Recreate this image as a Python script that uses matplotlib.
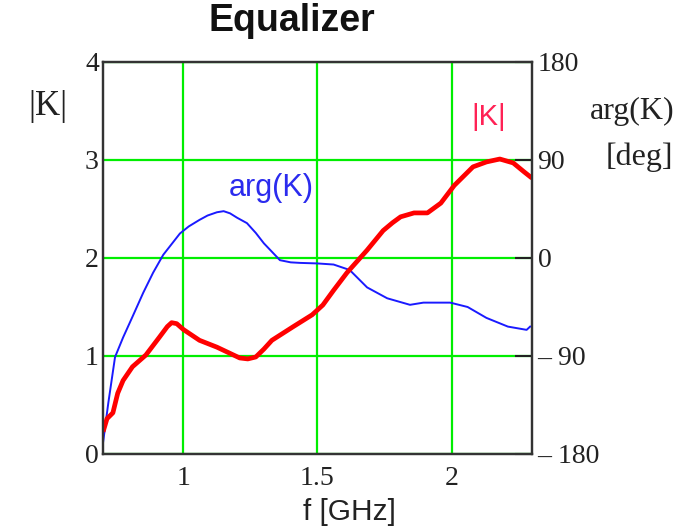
"""Equalizer magnitude / phase response."""

import matplotlib

matplotlib.use("Agg")
import matplotlib.pyplot as plt

# |K|
f_mag = [0.703, 0.715, 0.737, 0.755, 0.775, 0.81, 0.86, 0.91, 0.94, 0.956, 0.975,
         1.0, 1.06, 1.125, 1.21, 1.24, 1.27, 1.30, 1.33, 1.41, 1.48, 1.52,
         1.56, 1.61, 1.685, 1.745, 1.78, 1.81, 1.86, 1.91, 1.96, 2.01, 2.08,
         2.13, 2.18, 2.23, 2.27, 2.293]
mag = [0.25, 0.36, 0.42, 0.62, 0.75, 0.89, 1.01, 1.19, 1.30, 1.34, 1.33,
       1.27, 1.16, 1.09, 0.98, 0.97, 0.99, 1.07, 1.16, 1.30, 1.42, 1.52,
       1.67, 1.85, 2.08, 2.28, 2.36, 2.42, 2.46, 2.46, 2.56, 2.74, 2.93,
       2.98, 3.01, 2.97, 2.88, 2.83]

# arg(K) in degrees, right axis
f_arg = [0.70, 0.72, 0.745, 0.775, 0.81, 0.85, 0.887, 0.925, 0.96, 0.987, 1.02,
         1.06, 1.09, 1.125, 1.15, 1.174, 1.20, 1.237, 1.27, 1.30, 1.36, 1.40,
         1.435, 1.50, 1.56, 1.62, 1.685, 1.76, 1.845, 1.895, 1.995, 2.06, 2.13,
         2.21, 2.28, 2.293]
arg_deg = [-170, -133, -91, -73, -54, -32, -13.5, 3, 14, 22.5, 29,
           35, 39, 42, 43, 41, 37, 32, 23, 13.5, -2, -4,
           -4.5, -5, -6, -11, -27, -37, -43, -41, -41, -45, -55,
           -63, -66, -63]

x_ticks = [1, 1.5, 2]
left_ticks = [0, 1, 2, 3, 4]
right_ticks = [-180, -90, 0, 90, 180]
right_labels = ["\u2013 180", "\u2013 90", "0", "90", "180"]

serif = "Liberation Serif"
sans = "Liberation Sans"
ink = "#222222"
green = "#00ee00"

fig = plt.figure(figsize=(6.81, 5.29), dpi=100)
ax = fig.add_axes([0.1512, 0.1418, 0.6300, 0.7410])
ax2 = ax.twinx()

ax.set_xlim(0.7, 2.3)
ax.set_ylim(0, 4)
ax2.set_ylim(-180, 180)

ax.set_xticks(x_ticks)
ax.set_xticklabels([f"{v:g}" for v in x_ticks], family=serif, fontsize=20, color=ink)
ax.set_yticks(left_ticks)
ax.set_yticklabels([str(v) for v in left_ticks], family=serif, fontsize=20, color=ink)
ax2.set_yticks(right_ticks)
ax2.set_yticklabels(right_labels, family=serif, fontsize=20, color=ink)

ax.tick_params(axis="x", length=0, pad=9)
ax.tick_params(axis="y", length=0, pad=3)
ax2.tick_params(axis="y", direction="in", length=12, width=1.5, color=ink, pad=4)

ax.grid(True, color=green, linewidth=1.6)
ax.set_axisbelow(True)

# both curves live in ax so the red one can sit on top
ax.plot(f_arg, arg_deg, color="#1a1aff", linewidth=1.4, zorder=3,
        transform=ax2.transData)
ax.plot(f_mag, mag, color="#ff0000", linewidth=3.4, zorder=4)

for a in (ax, ax2):
    for s in a.spines.values():
        s.set_color("#333333")
        s.set_linewidth(1.6)

ax.text(0.392, 0.679, "arg(K)", transform=ax.transAxes, family=sans,
        fontsize=22, color="#2b2bee", ha="center", va="center")
ax.text(0.90, 0.86, "|K|", transform=ax.transAxes, family=sans,
        fontsize=21, color="#ff2255", ha="center", va="center")

fig.text(292 / 681, 1 - 21 / 529, "Equalizer", family=sans, fontweight="bold",
         fontsize=27, ha="center", va="center", color="#111111")
fig.text(349 / 681, 1 - 512 / 529, "f [GHz]", family=sans, fontsize=21.5,
         ha="center", va="center", color=ink)
fig.text(48 / 681, 1 - 107 / 529, "|K|", family=serif, fontsize=25,
         ha="center", va="center", color=ink)
fig.text(632 / 681, 1 - 111 / 529, "arg(K)", family=serif, fontsize=23,
         ha="center", va="center", color=ink)
fig.text(639 / 681, 1 - 157 / 529, "[deg]", family=serif, fontsize=23,
         ha="center", va="center", color=ink)

fig.savefig("out.png", dpi=100)
